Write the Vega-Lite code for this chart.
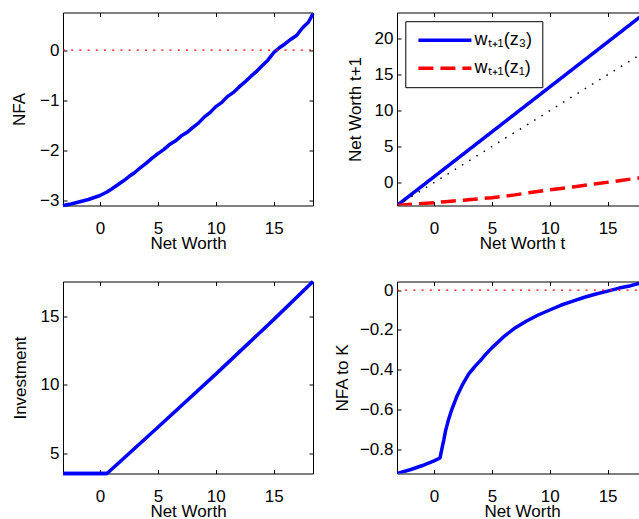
{
  "$schema": "https://vega.github.io/schema/vega-lite/v6.json",
  "background": "white",
  "padding": {"left": 10, "top": 11.5, "right": 0, "bottom": 0},
  "columns": 2,
  "spacing": {"row": 76, "column": 84},
  "bounds": "flush",
  "config": {
    "view": {"stroke": null},
    "font": "Liberation Sans",
    "axis": {
      "domainColor": "black", "domainWidth": 1, "tickColor": "black", "tickWidth": 1, "tickSize": -4,
      "labelColor": "black", "titleColor": "black", "labelFontSize": 17, "titleFontSize": 17,
      "titleFontWeight": "normal", "labelFont": "Liberation Sans", "titleFont": "Liberation Sans",
      "grid": false, "labelFlush": false, "labelOverlap": false, "zindex": 1
    },
    "axisBottom": {"labelPadding": 18.5, "titleBaseline": "alphabetic", "titlePadding": 12},
    "axisLeft": {"labelPadding": 8, "titleBaseline": "alphabetic", "titleAngle": 270}
  },
  "concat": [
    {
      "width": 250, "height": 193,
      "layer": [
        {
          "data": {"values": [
            {"nw": -3.2, "v": -3.11}, {"nw": -2.5, "v": -3.08}, {"nw": -2, "v": -3.05}, {"nw": -1, "v": -2.99},
            {"nw": 0, "v": -2.91}, {"nw": 0.6, "v": -2.84}, {"nw": 1, "v": -2.78}, {"nw": 1.5, "v": -2.7},
            {"nw": 2, "v": -2.62}, {"nw": 2.5, "v": -2.53}, {"nw": 3, "v": -2.45}, {"nw": 3.5, "v": -2.35},
            {"nw": 4, "v": -2.26}, {"nw": 4.5, "v": -2.16}, {"nw": 5, "v": -2.07}, {"nw": 5.5, "v": -1.99},
            {"nw": 6, "v": -1.89}, {"nw": 6.5, "v": -1.82}, {"nw": 7, "v": -1.72}, {"nw": 7.5, "v": -1.65},
            {"nw": 8, "v": -1.55}, {"nw": 8.5, "v": -1.46}, {"nw": 9, "v": -1.34}, {"nw": 9.5, "v": -1.25},
            {"nw": 10, "v": -1.13}, {"nw": 10.5, "v": -1.05}, {"nw": 11, "v": -0.93}, {"nw": 11.5, "v": -0.85},
            {"nw": 12, "v": -0.74}, {"nw": 12.5, "v": -0.64}, {"nw": 13, "v": -0.53}, {"nw": 13.5, "v": -0.43},
            {"nw": 14, "v": -0.31}, {"nw": 14.5, "v": -0.2}, {"nw": 15, "v": -0.05}, {"nw": 15.5, "v": 0.05},
            {"nw": 16, "v": 0.13}, {"nw": 16.5, "v": 0.22}, {"nw": 17, "v": 0.3}, {"nw": 17.5, "v": 0.45},
            {"nw": 18, "v": 0.56}, {"nw": 18.4, "v": 0.73}
          ]},
          "mark": {"type": "line", "color": "#0000ff", "strokeWidth": 3.5, "strokeJoin": "round"},
          "encoding": {
            "x": {"field": "nw", "type": "quantitative", "scale": {"domain": [-3.2, 18.4], "nice": false, "zero": false},
                  "axis": {"orient": "bottom", "title": "Net Worth", "values": [0, 5, 10, 15]}},
            "y": {"field": "v", "type": "quantitative", "scale": {"domain": [-3.11, 0.755], "nice": false, "zero": false},
                  "axis": {"orient": "left", "title": "NFA", "values": [-3, -2, -1, 0], "titlePadding": 15.5}}
          }
        },
        {
          "data": {"values": [{"nw": -3.2, "v": 0}, {"nw": 18.4, "v": 0}]},
          "mark": {"type": "line", "color": "#ff0000", "strokeWidth": 1.3, "strokeDash": [2, 6.2]},
          "encoding": {
            "x": {"field": "nw", "type": "quantitative", "scale": {"domain": [-3.2, 18.4], "nice": false, "zero": false},
                  "axis": {"orient": "top", "labels": false, "title": null, "values": [0, 5, 10, 15]}},
            "y": {"field": "v", "type": "quantitative", "scale": {"domain": [-3.11, 0.755], "nice": false, "zero": false},
                  "axis": {"orient": "right", "labels": false, "title": null, "values": [-3, -2, -1, 0]}}
          }
        }
      ],
      "resolve": {"axis": {"x": "independent", "y": "independent"}}
    },
    {
      "width": 243, "height": 193,
      "layer": [
        {
          "data": {"values": [
            {"nw": -3.2, "v": -3.2, "series": "wₜ₊₁(z₃)"}, {"nw": 0, "v": 0.8, "series": "wₜ₊₁(z₃)"},
            {"nw": 5, "v": 7.05, "series": "wₜ₊₁(z₃)"}, {"nw": 10, "v": 13.3, "series": "wₜ₊₁(z₃)"},
            {"nw": 15, "v": 19.55, "series": "wₜ₊₁(z₃)"}, {"nw": 17.8, "v": 23.05, "series": "wₜ₊₁(z₃)"},
            {"nw": -3.2, "v": -3.2, "series": "wₜ₊₁(z₁)"}, {"nw": -1, "v": -2.93, "series": "wₜ₊₁(z₁)"},
            {"nw": 1, "v": -2.67, "series": "wₜ₊₁(z₁)"}, {"nw": 3, "v": -2.41, "series": "wₜ₊₁(z₁)"},
            {"nw": 5, "v": -2.11, "series": "wₜ₊₁(z₁)"}, {"nw": 7, "v": -1.72, "series": "wₜ₊₁(z₁)"},
            {"nw": 8.5, "v": -1.35, "series": "wₜ₊₁(z₁)"}, {"nw": 10, "v": -1.02, "series": "wₜ₊₁(z₁)"},
            {"nw": 12, "v": -0.62, "series": "wₜ₊₁(z₁)"}, {"nw": 14, "v": -0.18, "series": "wₜ₊₁(z₁)"},
            {"nw": 16, "v": 0.25, "series": "wₜ₊₁(z₁)"}, {"nw": 17.8, "v": 0.66, "series": "wₜ₊₁(z₁)"}
          ]},
          "mark": {"type": "line", "strokeWidth": 3.5, "clip": true},
          "encoding": {
            "x": {"field": "nw", "type": "quantitative", "scale": {"domain": [-3.2, 17.8], "nice": false, "zero": false},
                  "axis": {"orient": "bottom", "title": "Net Worth t", "values": [0, 5, 10, 15], "titleX": 125}},
            "y": {"field": "v", "type": "quantitative", "scale": {"domain": [-3.2, 23.67], "nice": false, "zero": false},
                  "axis": {"orient": "left", "title": "Net Worth t+1", "values": [0, 5, 10, 15, 20], "titlePadding": 14}},
            "color": {"field": "series", "type": "nominal",
                      "scale": {"domain": ["wₜ₊₁(z₃)", "wₜ₊₁(z₁)"], "range": ["#0000ff", "#ff0000"]},
                      "legend": {"orient": "none", "legendX": 342.3, "legendY": 8.7, "title": null, "strokeColor": "black", "fillColor": "white",
                                 "padding": 10, "labelFontSize": 18, "labelFont": "Liberation Sans", "labelColor": "black",
                                 "symbolType": "M-5.3,0H5.3", "symbolSize": 100, "symbolStrokeWidth": 3.5, "symbolOffset": 20.6,
                                 "rowPadding": 10, "labelOffset": 20.7}},
            "strokeDash": {"field": "series", "type": "nominal",
                      "scale": {"domain": ["wₜ₊₁(z₃)", "wₜ₊₁(z₁)"], "range": [[1, 0], [15, 7]]},
                      "legend": {"orient": "none", "legendX": 342.3, "legendY": 8.7, "title": null, "strokeColor": "black", "fillColor": "white",
                                 "padding": 10, "labelFontSize": 18, "labelFont": "Liberation Sans", "labelColor": "black",
                                 "symbolType": "M-5.3,0H5.3", "symbolSize": 100, "symbolStrokeWidth": 3.5, "symbolOffset": 20.6,
                                 "rowPadding": 10, "labelOffset": 20.7}}
          }
        },
        {
          "data": {"values": [{"nw": -3.2, "v": -3.2}, {"nw": 17.8, "v": 17.8}]},
          "mark": {"type": "line", "color": "black", "strokeWidth": 1.5, "strokeDash": [1.5, 7], "clip": true},
          "encoding": {
            "x": {"field": "nw", "type": "quantitative", "scale": {"domain": [-3.2, 17.8], "nice": false, "zero": false},
                  "axis": {"orient": "top", "labels": false, "title": null, "values": [0, 5, 10, 15]}},
            "y": {"field": "v", "type": "quantitative", "scale": {"domain": [-3.2, 23.67], "nice": false, "zero": false}, "axis": null}
          }
        }
      ],
      "resolve": {"axis": {"x": "independent", "y": "independent"}}
    },
    {
      "width": 250, "height": 192,
      "layer": [
        {
          "data": {"values": [
            {"nw": -3.2, "v": 3.5}, {"nw": 0.6, "v": 3.5}, {"nw": 5, "v": 6.9}, {"nw": 10, "v": 10.8},
            {"nw": 15, "v": 14.8}, {"nw": 18.4, "v": 17.6}
          ]},
          "mark": {"type": "line", "color": "#0000ff", "strokeWidth": 3.5},
          "encoding": {
            "x": {"field": "nw", "type": "quantitative", "scale": {"domain": [-3.2, 18.4], "nice": false, "zero": false},
                  "axis": {"orient": "bottom", "title": "Net Worth", "values": [0, 5, 10, 15]}},
            "y": {"field": "v", "type": "quantitative", "scale": {"domain": [3.5, 17.6], "nice": false, "zero": false},
                  "axis": {"orient": "left", "title": "Investment", "values": [5, 10, 15], "titlePadding": 14.7}}
          }
        },
        {
          "data": {"values": [{"nw": -3.2, "v": 3.5}, {"nw": 0.6, "v": 3.5}]},
          "mark": {"type": "line", "color": "#0000ff", "strokeWidth": 3.5},
          "encoding": {
            "x": {"field": "nw", "type": "quantitative", "scale": {"domain": [-3.2, 18.4], "nice": false, "zero": false},
                  "axis": {"orient": "top", "labels": false, "title": null, "values": [0, 5, 10, 15]}},
            "y": {"field": "v", "type": "quantitative", "scale": {"domain": [3.5, 17.6], "nice": false, "zero": false},
                  "axis": {"orient": "right", "labels": false, "title": null, "values": [5, 10, 15]}}
          }
        }
      ],
      "resolve": {"axis": {"x": "independent", "y": "independent"}}
    },
    {
      "width": 243, "height": 192,
      "layer": [
        {
          "data": {"values": [
            {"nw": -3.2, "v": -0.92}, {"nw": -2, "v": -0.9}, {"nw": -1, "v": -0.88}, {"nw": 0, "v": -0.857},
            {"nw": 0.52, "v": -0.842}, {"nw": 0.7, "v": -0.79}, {"nw": 0.85, "v": -0.75}, {"nw": 1.0, "v": -0.705},
            {"nw": 1.25, "v": -0.65}, {"nw": 1.5, "v": -0.605}, {"nw": 2.0, "v": -0.53}, {"nw": 2.5, "v": -0.47},
            {"nw": 3.0, "v": -0.42}, {"nw": 3.5, "v": -0.385}, {"nw": 4.0, "v": -0.354}, {"nw": 4.5, "v": -0.32},
            {"nw": 5.0, "v": -0.29}, {"nw": 6.0, "v": -0.235}, {"nw": 7.0, "v": -0.19}, {"nw": 8.0, "v": -0.155},
            {"nw": 9.0, "v": -0.125}, {"nw": 10.0, "v": -0.1}, {"nw": 11.0, "v": -0.075}, {"nw": 12.0, "v": -0.055},
            {"nw": 13.0, "v": -0.036}, {"nw": 14.0, "v": -0.02}, {"nw": 15.0, "v": -0.005}, {"nw": 16.0, "v": 0.01},
            {"nw": 17.0, "v": 0.022}, {"nw": 17.8, "v": 0.035}
          ]},
          "mark": {"type": "line", "color": "#0000ff", "strokeWidth": 3.5, "strokeJoin": "round", "clip": true},
          "encoding": {
            "x": {"field": "nw", "type": "quantitative", "scale": {"domain": [-3.2, 17.8], "nice": false, "zero": false},
                  "axis": {"orient": "bottom", "title": "Net Worth", "values": [0, 5, 10, 15], "titleX": 125}},
            "y": {"field": "v", "type": "quantitative", "scale": {"domain": [-0.92, 0.043], "nice": false, "zero": false},
                  "axis": {"orient": "left", "title": "NFA to K", "values": [-0.8, -0.6, -0.4, -0.2, 0], "format": "~g", "titlePadding": 12}}
          }
        },
        {
          "data": {"values": [{"nw": -3.2, "v": 0}, {"nw": 17.8, "v": 0}]},
          "mark": {"type": "line", "color": "#ff0000", "strokeWidth": 1.3, "strokeDash": [2, 6.2], "clip": true},
          "encoding": {
            "x": {"field": "nw", "type": "quantitative", "scale": {"domain": [-3.2, 17.8], "nice": false, "zero": false},
                  "axis": {"orient": "top", "labels": false, "title": null, "values": [0, 5, 10, 15]}},
            "y": {"field": "v", "type": "quantitative", "scale": {"domain": [-0.92, 0.043], "nice": false, "zero": false}, "axis": null}
          }
        }
      ],
      "resolve": {"axis": {"x": "independent", "y": "independent"}}
    }
  ]
}
